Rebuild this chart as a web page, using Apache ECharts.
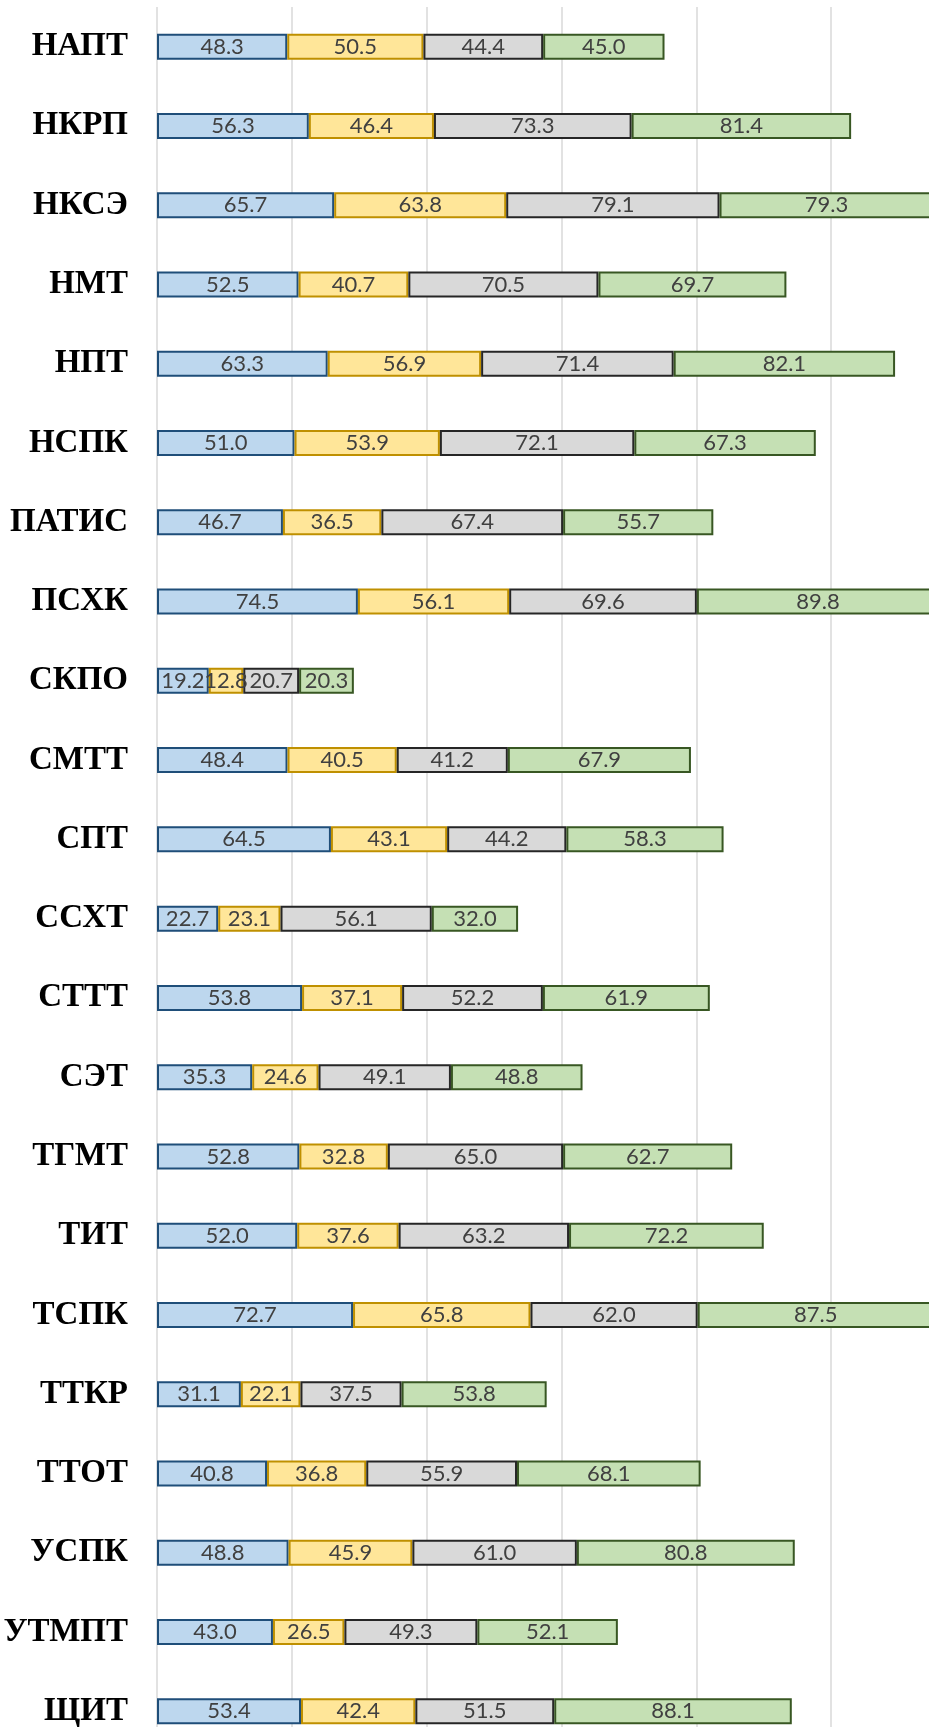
<!DOCTYPE html>
<html>
  <head>
    <meta charset="utf-8" />
    <script src="https://cdn.jsdelivr.net/npm/echarts@6.0.0/dist/echarts.min.js"></script>
    <style>
      html, body { margin: 0; padding: 0; background: #fff; overflow: hidden; }
    </style>
  </head>
  <body>
    <!-- chart is larger than the window: the right and bottom edges are cut off like in the original -->
    <div id="main" style="width: 1000px; height: 1760px"></div>

    <script type="text/javascript">
      // categories, top to bottom
      var categories = [
        "НАПТ", "НКРП", "НКСЭ", "НМТ", "НПТ", "НСПК", "ПАТИС", "ПСХК",
        "СКПО", "СМТТ", "СПТ", "ССХТ", "СТТТ", "СЭТ", "ТГМТ", "ТИТ",
        "ТСПК", "ТТКР", "ТТОТ", "УСПК", "УТМПТ", "ЩИТ"
      ];

      var blueValues = [48.3, 56.3, 65.7, 52.5, 63.3, 51.0, 46.7, 74.5, 19.2, 48.4, 64.5,
                        22.7, 53.8, 35.3, 52.8, 52.0, 72.7, 31.1, 40.8, 48.8, 43.0, 53.4];
      var yellowValues = [50.5, 46.4, 63.8, 40.7, 56.9, 53.9, 36.5, 56.1, 12.8, 40.5, 43.1,
                          23.1, 37.1, 24.6, 32.8, 37.6, 65.8, 22.1, 36.8, 45.9, 26.5, 42.4];
      var grayValues = [44.4, 73.3, 79.1, 70.5, 71.4, 72.1, 67.4, 69.6, 20.7, 41.2, 44.2,
                        56.1, 52.2, 49.1, 65.0, 63.2, 62.0, 37.5, 55.9, 61.0, 49.3, 51.5];
      var greenValues = [45.0, 81.4, 79.3, 69.7, 82.1, 67.3, 55.7, 89.8, 20.3, 67.9, 58.3,
                         32.0, 61.9, 48.8, 62.7, 72.2, 87.5, 53.8, 68.1, 80.8, 52.1, 88.1];

      var myChart = echarts.init(document.getElementById("main"));

      function makeSeries(name, values, fill, border) {
        return {
          name: name,
          type: "bar",
          stack: "total",
          barWidth: 26,
          data: values,
          itemStyle: { color: fill, borderColor: border, borderWidth: 2 },
          label: {
            show: true,
            position: "inside",
            formatter: function (p) { return p.value.toFixed(1); },
            color: "#404040",
            fontFamily: "Lato",
            fontSize: 22
          }
        };
      }

      var option = {
        animation: false,
        backgroundColor: "#ffffff",
        grid: { left: 157, right: 34, top: 7, bottom: 9, containLabel: false },
        xAxis: {
          type: "value",
          min: 0,
          max: 300,
          interval: 50,
          axisLabel: { show: false },
          axisLine: { show: false },
          axisTick: { show: false },
          splitLine: { show: true, lineStyle: { color: "#d9d9d9", width: 1.5 } }
        },
        yAxis: {
          type: "category",
          inverse: true,
          data: categories,
          axisLine: { show: false },
          axisTick: { show: false },
          axisLabel: {
            margin: 29,
            color: "#000000",
            fontFamily: "Liberation Serif",
            fontWeight: "bold",
            fontSize: 33
          }
        },
        series: [
          makeSeries("s1", blueValues, "#bdd7ee", "#1f4e79"),
          makeSeries("s2", yellowValues, "#ffe699", "#bf9000"),
          makeSeries("s3", grayValues, "#d9d9d9", "#262626"),
          makeSeries("s4", greenValues, "#c5e0b4", "#385723")
        ]
      };

      myChart.setOption(option);
    </script>
  </body>
</html>
